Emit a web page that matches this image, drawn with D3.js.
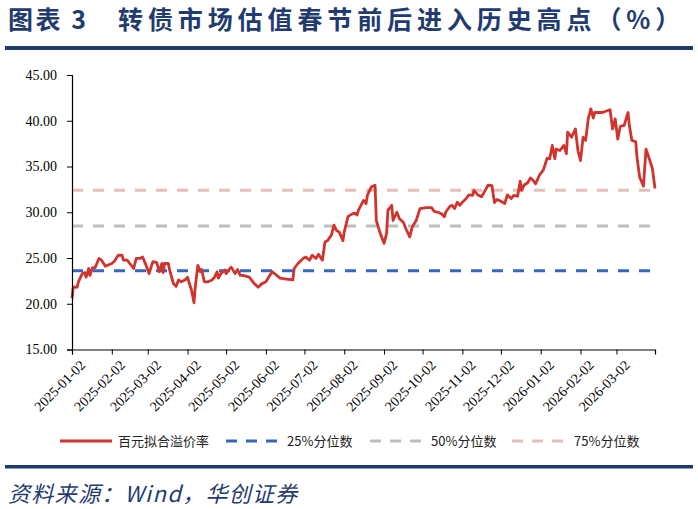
<!DOCTYPE html>
<html>
<head>
<meta charset="utf-8">
<script src="https://cdn.jsdelivr.net/npm/d3@7"></script>
<style>
  body { margin: 0; background: #fff; }
  svg { display: block; }
</style>
</head>
<body>
<svg id="chart" width="698" height="509"></svg>
<script>
// 百元拟合溢价率（%），按日期读取
const dates = [
  "2025-01-02","2025-01-03","2025-01-06","2025-01-07","2025-01-10","2025-01-12","2025-01-13","2025-01-15","2025-01-16","2025-01-18",
  "2025-01-20","2025-01-23","2025-01-25","2025-01-28","2025-02-02","2025-02-04","2025-02-07","2025-02-10","2025-02-11","2025-02-14",
  "2025-02-16","2025-02-19","2025-02-21","2025-02-24","2025-02-26","2025-03-01","2025-03-03","2025-03-06","2025-03-09","2025-03-11",
  "2025-03-13","2025-03-14","2025-03-15","2025-03-18","2025-03-19","2025-03-22","2025-03-24","2025-03-26","2025-03-28","2025-03-31",
  "2025-04-02","2025-04-03","2025-04-05","2025-04-07","2025-04-08","2025-04-10","2025-04-12","2025-04-13","2025-04-15","2025-04-18",
  "2025-04-21","2025-04-23","2025-04-25","2025-04-26","2025-04-28","2025-05-01","2025-05-02","2025-05-05","2025-05-06","2025-05-09",
  "2025-05-11","2025-05-13","2025-05-15","2025-05-20","2025-05-24","2025-05-27","2025-05-30","2025-06-02","2025-06-05","2025-06-07",
  "2025-06-13","2025-06-18","2025-06-23","2025-06-24","2025-06-27","2025-07-01","2025-07-03","2025-07-06","2025-07-08","2025-07-11",
  "2025-07-13","2025-07-16","2025-07-18","2025-07-20","2025-07-23","2025-07-25","2025-07-27","2025-07-29","2025-08-01","2025-08-02",
  "2025-08-05","2025-08-08","2025-08-10","2025-08-12","2025-08-13","2025-08-15","2025-08-17","2025-08-19","2025-08-20","2025-08-23",
  "2025-08-26","2025-08-27","2025-08-30","2025-09-02","2025-09-04","2025-09-05","2025-09-08","2025-09-09","2025-09-12","2025-09-14",
  "2025-09-17","2025-09-19","2025-09-22","2025-09-24","2025-09-27","2025-09-30","2025-10-05","2025-10-09","2025-10-11","2025-10-14",
  "2025-10-17","2025-10-19","2025-10-20","2025-10-23","2025-10-25","2025-10-27","2025-10-29","2025-10-31","2025-11-02","2025-11-05",
  "2025-11-07","2025-11-10","2025-11-11","2025-11-14","2025-11-17","2025-11-19","2025-11-22","2025-11-25","2025-11-27","2025-11-29",
  "2025-12-02","2025-12-05","2025-12-07","2025-12-10","2025-12-12","2025-12-15","2025-12-17","2025-12-18","2025-12-20","2025-12-23",
  "2025-12-25","2025-12-27","2025-12-29","2026-01-01","2026-01-04","2026-01-07","2026-01-09","2026-01-11","2026-01-13","2026-01-14",
  "2026-01-17","2026-01-20","2026-01-22","2026-01-23","2026-01-26","2026-01-29","2026-01-31","2026-02-02","2026-02-04","2026-02-06",
  "2026-02-08","2026-02-10","2026-02-12","2026-02-13","2026-02-19","2026-02-25","2026-02-27","2026-03-01","2026-03-03","2026-03-05",
  "2026-03-08","2026-03-11","2026-03-12","2026-03-14","2026-03-17","2026-03-18","2026-03-20","2026-03-23","2026-03-25","2026-03-28",
  "2026-03-30","2026-04-01"
];
const premium = [
  20.6,21.85,21.8,22.4,23.3,23.4,22.9,23.85,23.1,23.95,
  23.95,24.95,24.76,24.1,24.4,24.65,25.3,25.3,24.76,24.76,
  24.4,23.85,24.95,24.95,25.1,24.1,23.3,24.6,24.5,23.5,
  24.4,23.4,24.4,24.4,23.7,22.2,21.9,22.6,22.4,22.6,
  22.9,22.4,21.5,20.1,21.85,24.2,23.5,23.75,22.4,22.4,
  22.6,22.9,23.5,22.8,23.3,23.7,23.3,23.85,24.0,23.3,
  23.75,23.1,23.1,22.9,22.2,21.8,22.2,22.4,23.1,23.5,
  22.8,22.7,22.6,23.85,24.4,24.95,25.1,24.76,25.3,24.95,
  25.4,24.76,26.75,26.9,27.5,28.6,28.0,27.85,26.9,27.85,
  29.55,29.8,29.9,29.7,30.2,30.76,31.3,30.95,31.85,32.75,
  32.95,29.1,27.7,26.6,27.7,30.2,30.76,29.1,30.0,29.3,
  28.9,28.2,27.3,28.4,29.1,30.4,30.5,30.5,30.1,30.0,
  29.8,29.5,30.0,30.6,30.76,30.4,31.1,30.76,31.1,31.5,
  31.9,31.85,32.4,31.9,31.7,32.2,32.95,32.9,31.05,31.4,
  31.2,30.95,31.9,31.5,31.85,31.75,33.4,32.4,32.95,33.25,
  33.75,33.5,33.1,34.05,34.6,35.9,35.85,37.3,35.85,36.9,
  36.75,37.3,36.4,38.75,38.2,39.1,36.75,35.65,38.2,37.85,
  40.2,41.3,40.3,40.9,40.9,41.2,39.1,40.2,38.0,39.4,
  39.5,40.9,39.5,37.85,37.7,36.0,33.85,32.85,36.9,35.65,
  34.75,32.6
];

// 分位数水平线
const quantileNames = ["25%分位数", "50%分位数", "75%分位数"];
const quantileValues = [23.6, 28.5, 32.4];
const quantileColors = ["#3467c2", "#bdbdbd", "#e7bcbc"];

// 坐标轴刻度
const yTicks = [15, 20, 25, 30, 35, 40, 45];
const xTickLabels = [
  "2025-01-02","2025-02-02","2025-03-02","2025-04-02","2025-05-02","2025-06-02","2025-07-02",
  "2025-08-02","2025-09-02","2025-10-02","2025-11-02","2025-12-02","2026-01-02","2026-02-02","2026-03-02"
];
const xDomain = ["2025-01-02", "2026-04-01"];

const parse = d3.timeParse("%Y-%m-%d");
const data = dates.map((d, i) => ({ date: parse(d), v: premium[i] }));

const svg = d3.select("#chart");
const navy = "#1f3b6f";
const red = "#d0342c";
const serif = "'Liberation Serif', 'DejaVu Serif', serif";

// 标题
svg.append("text")
  .attr("x", 8).attr("y", 29)
  .style("font-family", "'Noto Sans CJK SC'")
  .style("font-size", "25px").style("font-weight", "bold")
  .style("letter-spacing", "2.5px")
  .attr("fill", navy)
  .text("图表 3");

svg.append("text")
  .attr("x", 118).attr("y", 29)
  .style("font-family", "'Noto Sans CJK SC'")
  .style("font-size", "25px").style("font-weight", "bold")
  .style("letter-spacing", "4.9px")
  .attr("fill", navy)
  .text("转债市场估值春节前后进入历史高点（%）");

svg.append("rect").attr("x", 5).attr("y", 46).attr("width", 688).attr("height", 4).attr("fill", navy);

// 绘图区
const plotL = 72, plotR = 655, plotT = 75, plotB = 349.5;

const x = d3.scaleTime()
  .domain(xDomain.map(parse))
  .range([plotL, plotR]);

const y = d3.scaleLinear()
  .domain([15, 45])
  .range([plotB, plotT]);

// 分位数虚线
quantileValues.forEach((q, i) => {
  svg.append("line")
    .attr("x1", plotL).attr("x2", plotR)
    .attr("y1", y(q)).attr("y2", y(q))
    .attr("stroke", quantileColors[i])
    .attr("stroke-width", 3)
    .attr("stroke-dasharray", "11,10");
});

// 溢价率曲线
svg.append("path")
  .datum(data)
  .attr("fill", "none")
  .attr("stroke", red)
  .attr("stroke-width", 2.8)
  .attr("stroke-linejoin", "round")
  .attr("d", d3.line().x(d => x(d.date)).y(d => y(d.v)));

// Y 轴
const yAxis = svg.append("g")
  .attr("transform", `translate(${plotL},0)`)
  .call(d3.axisLeft(y).tickValues(yTicks).tickFormat(d3.format(".2f")).tickSize(5).tickPadding(10));

// X 轴
const xAxis = svg.append("g")
  .attr("transform", `translate(0,${plotB})`)
  .call(d3.axisBottom(x).tickValues(xTickLabels.map(parse)).tickFormat(d3.timeFormat("%Y-%m-%d")).tickSize(5));

xAxis.selectAll("text")
  .attr("text-anchor", "end")
  .attr("transform", "translate(5,4) rotate(-45)")
  .attr("dy", "0.5em").attr("dx", "-0.2em");

[yAxis, xAxis].forEach(a => {
  a.attr("font-family", serif).attr("font-size", 14);
  a.select(".domain").attr("stroke", "#000").attr("stroke-width", 1.2);
  a.selectAll(".tick line").attr("stroke", "#000");
  a.selectAll("text").attr("fill", "#000");
});

// 图例
const legend = svg.append("g").attr("transform", "translate(0,441)");
const legendItems = [
  { name: "百元拟合溢价率", color: red, dash: null, x0: 60, x1: 112, tx: 118 },
  { name: quantileNames[0], color: quantileColors[0], dash: "11,9", x0: 226, x1: 278, tx: 287 },
  { name: quantileNames[1], color: quantileColors[1], dash: "11,9", x0: 370, x1: 422, tx: 431 },
  { name: quantileNames[2], color: quantileColors[2], dash: "11,9", x0: 512, x1: 564, tx: 574 }
];
legendItems.forEach(it => {
  legend.append("line")
    .attr("x1", it.x0).attr("x2", it.x1)
    .attr("stroke", it.color).attr("stroke-width", 3)
    .attr("stroke-dasharray", it.dash);
  legend.append("text")
    .attr("x", it.tx).attr("y", 4.5)
    .style("font-family", "'Noto Sans CJK SC'")
    .style("font-size", "13px")
    .attr("fill", "#222")
    .text(it.name);
});

// 底部分隔线与来源
svg.append("rect").attr("x", 5).attr("y", 465).attr("width", 688).attr("height", 3.5).attr("fill", navy);

svg.append("text")
  .attr("x", 8).attr("y", 502)
  .style("font-family", "'Noto Sans CJK SC'")
  .style("font-size", "22px").style("font-style", "italic")
  .style("letter-spacing", "1.3px")
  .attr("fill", navy)
  .text("资料来源：Wind，华创证券");
</script>
</body>
</html>
